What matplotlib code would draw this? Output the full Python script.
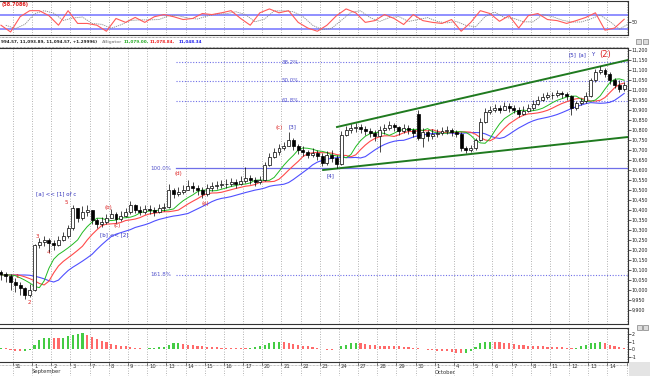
import numpy as np
import pandas as pd
import matplotlib
matplotlib.use("Agg")
import matplotlib.pyplot as plt
from matplotlib.patches import Rectangle
from matplotlib.transforms import blended_transform_factory

# ---------------- data (4 bars per trading day) ----------------
day_labels = ["31", "1", "2", "3", "7", "8", "9", "10", "13", "14", "15", "16", "17",
              "20", "21", "22", "23", "24", "27", "28", "29", "30", "1", "4", "5", "6",
              "7", "8", "11", "12", "13", "14", "1"]
month_labels = {1: "September", 22: "October"}

opens = [10090, 10080, 10070,
         10040, 10025, 10010, 9975,
         10000, 10225, 10240, 10250,
         10235, 10225, 10250, 10270,
         10310, 10410, 10360, 10390,
         10400, 10350, 10330, 10340,
         10360, 10380, 10355, 10370,
         10390, 10425, 10400, 10390,
         10405, 10400, 10390, 10410,
         10415, 10500, 10480, 10490,
         10500, 10520, 10510, 10500,
         10480, 10510, 10520, 10525,
         10530, 10530, 10540, 10530,
         10545, 10560, 10550, 10540,
         10550, 10625, 10665, 10690,
         10710, 10720, 10750, 10720,
         10700, 10690, 10675, 10685,
         10670, 10635, 10675, 10660,
         10630, 10775, 10800, 10810,
         10815, 10805, 10795, 10785,
         10770, 10800, 10810, 10825,
         10815, 10795, 10810, 10800,
         10880, 10760, 10790, 10770,
         10780, 10785, 10795, 10800,
         10790, 10780, 10710, 10700,
         10710, 10750, 10840, 10890,
         10900, 10910, 10900, 10920,
         10910, 10900, 10880, 10895,
         10910, 10930, 10950, 10965,
         10975, 10975, 10985, 10980,
         10970, 10910, 10935, 10945,
         10970, 11050, 11090, 11100,
         11080, 11050, 11025, 11005]
highs = [10100, 10090, 10080,
         10060, 10040, 10015, 10030,
         10230, 10260, 10270, 10260,
         10250, 10270, 10290, 10325,
         10425, 10410, 10420, 10425,
         10385, 10360, 10365, 10380,
         10405, 10390, 10395, 10410,
         10445, 10430, 10420, 10425,
         10425, 10415, 10430, 10435,
         10530, 10510, 10515, 10525,
         10550, 10540, 10525, 10515,
         10530, 10540, 10545, 10550,
         10555, 10560, 10555, 10570,
         10615, 10575, 10565, 10570,
         10640, 10685, 10710, 10730,
         10740, 10790, 10760, 10730,
         10720, 10700, 10710, 10700,
         10685, 10695, 10700, 10675,
         10795, 10820, 10830, 10835,
         10830, 10820, 10810, 10800,
         10820, 10830, 10845, 10835,
         10820, 10830, 10825, 10810,
         10900, 10810, 10800, 10805,
         10805, 10815, 10820, 10810,
         10800, 10790, 10720, 10725,
         10760, 10860, 10910, 10920,
         10930, 10925, 10940, 10935,
         10925, 10915, 10920, 10930,
         10950, 10970, 10985, 10990,
         10990, 11000, 10995, 10990,
         10975, 10945, 10960, 10990,
         11060, 11105, 11120, 11110,
         11090, 11060, 11050, 11040]
lows = [10050, 10040, 10000,
        9990, 9975, 9955, 9965,
        9995, 10210, 10220, 10190,
        10200, 10220, 10245, 10260,
        10300, 10340, 10350, 10370,
        10330, 10310, 10315, 10330,
        10360, 10335, 10345, 10365,
        10380, 10385, 10375, 10380,
        10380, 10370, 10385, 10395,
        10410, 10460, 10470, 10480,
        10500, 10490, 10475, 10460,
        10470, 10495, 10505, 10510,
        10510, 10520, 10510, 10525,
        10535, 10530, 10520, 10530,
        10545, 10620, 10660, 10675,
        10700, 10720, 10700, 10680,
        10670, 10660, 10665, 10650,
        10620, 10625, 10640, 10610,
        10625, 10770, 10785, 10790,
        10785, 10775, 10765, 10745,
        10690, 10780, 10800, 10795,
        10775, 10785, 10780, 10765,
        10750, 10715, 10745, 10755,
        10765, 10775, 10780, 10770,
        10765, 10695, 10685, 10690,
        10700, 10745, 10835, 10880,
        10890, 10885, 10900, 10890,
        10885, 10865, 10875, 10890,
        10900, 10925, 10945, 10955,
        10955, 10965, 10960, 10950,
        10875, 10900, 10925, 10935,
        10965, 11040, 11080, 11065,
        11030, 11010, 10990, 10995]
closes = [10080, 10070, 10040,
          10025, 10010, 9975, 10000,
          10225, 10240, 10250, 10235,
          10225, 10250, 10270, 10310,
          10410, 10360, 10390, 10400,
          10350, 10330, 10340, 10360,
          10380, 10355, 10370, 10390,
          10425, 10400, 10390, 10405,
          10400, 10390, 10410, 10415,
          10500, 10480, 10490, 10500,
          10520, 10510, 10500, 10480,
          10510, 10520, 10525, 10530,
          10530, 10540, 10530, 10545,
          10560, 10550, 10540, 10550,
          10625, 10665, 10690, 10710,
          10720, 10750, 10720, 10700,
          10690, 10675, 10685, 10670,
          10635, 10675, 10660, 10630,
          10775, 10800, 10810, 10815,
          10805, 10795, 10785, 10770,
          10800, 10810, 10825, 10815,
          10795, 10810, 10800, 10785,
          10760, 10790, 10770, 10780,
          10785, 10795, 10800, 10790,
          10780, 10710, 10700, 10710,
          10750, 10840, 10890, 10900,
          10910, 10900, 10920, 10910,
          10900, 10880, 10895, 10910,
          10930, 10950, 10965, 10975,
          10975, 10985, 10980, 10970,
          10910, 10935, 10945, 10970,
          11050, 11090, 11100, 11080,
          11050, 11025, 11005, 11025]

# oscillator (one reading every 2 bars)
osc_values = [42, 23, 66, 83, 83, 69, 42, 83, 47, 47, 42, 25, 61, 50, 64, 50, 66,
              72, 66, 58, 61, 75, 72, 77, 83, 61, 42, 77, 88, 77, 83, 50, 34, 25,
              42, 69, 88, 77, 50, 55, 72, 61, 44, 72, 55, 50, 47, 58, 25, 50, 83,
              75, 53, 69, 34, 69, 75, 58, 55, 47, 55, 64, 77, 28, 34, 58.7]

# lower histogram
hist_values = [0.15, 0.1, -0.1,
               -0.2, -0.25, -0.2, -0.1,
               0.6, 1.2, 1.4, 1.5,
               1.45, 1.4, 1.5, 1.7,
               1.9, 2.0, 2.05, 1.9,
               1.6, 1.3, 1.1, 0.9,
               0.7, 0.55, 0.45, 0.35,
               0.25, 0.15, 0.1, 0.05,
               0.1, 0.2, 0.25, 0.3,
               0.5, 0.75, 0.8, 0.7,
               0.6, 0.5, 0.45, 0.35,
               0.3, 0.3, 0.25, 0.2,
               0.2, 0.15, 0.1, 0.1,
               0.1, 0.15, 0.3, 0.45,
               0.6, 0.8, 0.9, 0.95,
               0.9, 0.8, 0.7, 0.55,
               0.45, 0.35, 0.25, 0.15,
               0.05, -0.1, -0.15, 0.0,
               0.35, 0.6, 0.75, 0.8,
               0.75, 0.65, 0.55, 0.5,
               0.45, 0.4, 0.4, 0.35,
               0.35, 0.3, 0.25, 0.2,
               0.1, 0.0, -0.1, -0.15,
               -0.2, -0.25, -0.3, -0.35,
               -0.45, -0.55, -0.5, -0.2,
               0.3, 0.75, 0.95, 1.0,
               1.0, 0.9, 0.85, 0.75,
               0.65, 0.55, 0.5, 0.45,
               0.4, 0.35, 0.35, 0.3,
               0.3, 0.3, 0.25, 0.2,
               0.15, 0.2, 0.4, 0.6,
               0.75, 0.85, 0.9, 0.8,
               0.6, 0.45, 0.3, 0.2]

fib_labels = ["38.2%", "50.0%", "61.8%", "100.0%", "161.8%"]
fib_prices = [11140, 11045, 10945, 10610, 10075]

channel_upper_bars = [70.1, 130.8]
channel_upper_prices = [10815, 11150]
channel_lower_bars = [67.2, 130.8]
channel_lower_prices = [10600, 10765]

header_parts = [("994.57, 11,093.89, 11,094.57, +1.29996)", "#222222"),
                ("Alligator", "#9a9a9a"),
                ("11,079.00,", "#22aa22"),
                ("11,078.84,", "#ee2222"),
                ("11,048.34", "#2222ee")]

# ---------------- figure ----------------
W, H = 650, 376
fig = plt.figure(figsize=(6.5, 3.76), dpi=100)
fig.patch.set_facecolor("white")


def add_ax(x0, y0, x1, y1):
    return fig.add_axes([x0 / W, 1 - y1 / H, (x1 - x0) / W, (y1 - y0) / H])


o = np.array(opens, float)
h = np.array(highs, float)
l = np.array(lows, float)
c = np.array(closes, float)
n = len(c)
idx = np.arange(n)
XL = (-0.2, 130.8)
day_ticks = 2.5 + 4 * np.arange(len(day_labels))

grid_kw = dict(color="#9a9a9a", lw=0.6, ls=(0, (1, 2)))
fs = 4.0
fs_axis = 3.4


def style_panel(ax):
    ax.set_xlim(*XL)
    ax.set_xticks([])
    ax.spines["left"].set_visible(False)
    for s in ["top", "bottom", "right"]:
        ax.spines[s].set_color("#333333")
        ax.spines[s].set_linewidth(0.8)
    ax.yaxis.tick_right()
    ax.tick_params(axis="y", labelsize=fs_axis, length=1.8, width=0.5, pad=0.8,
                   colors="#222222")
    for t in day_ticks:
        ax.axvline(t, **grid_kw, zorder=0)


# ---- oscillator panel ----
ax_o = add_ax(0, 1, 628, 35)
style_panel(ax_o)
ax_o.set_ylim(14.4, 110.3)
osc_x = 2 * np.arange(len(osc_values))
osc = np.array(osc_values, float)
sig = pd.Series(osc).rolling(2, min_periods=1).mean().values
ax_o.axhline(70, color="#7272ff", lw=1.1)
ax_o.axhline(30, color="#7272ff", lw=1.1)
ax_o.plot(osc_x + 1, sig, color="#8a8a8a", lw=0.6, ls=(0, (1.5, 1)))
ax_o.plot(osc_x, osc, color="#ff5a5a", lw=0.8)
ax_o.set_yticks([50])
ax_o.set_yticklabels(["50"])
ax_o.text(0.003, 0.97, "(58.7086)", transform=ax_o.transAxes, color="#e02020",
          fontsize=3.6, va="top", ha="left", fontweight="bold")

# ---- header strip ----
xpos = [1, 102, 124, 150, 179]
for (txt, col), xp in zip(header_parts, xpos):
    fig.text(xp / W, 1 - 41.8 / H, txt, color=col, fontsize=3.0, va="center",
             ha="left", fontweight="bold")
fig.add_artist(plt.Line2D([0, 628 / W], [1 - 37 / H] * 2, color="#555555", lw=0.5,
                          ls=(0, (1, 1))))
fig.add_artist(plt.Line2D([0, 628 / W], [1 - 46.5 / H] * 2, color="#555555", lw=0.5,
                          ls=(0, (1, 1))))
for xs in (636, 643):
    fig.add_artist(Rectangle((xs / W, 1 - 44 / H), 5 / W, 5 / H, facecolor="#dddddd",
                             edgecolor="#666666", lw=0.4))

# ---- main price panel ----
ax = add_ax(0, 48, 628, 324)
style_panel(ax)
ax.set_ylim(9830, 11210)
yt = np.arange(9900, 11201, 50)
ax.set_yticks(yt)
ax.set_yticklabels([f"{v:,}" for v in yt])

# fib lines
fib_start = 36.5
for lab, p in zip(fib_labels, fib_prices):
    solid = lab == "100.0%"
    ax.plot([fib_start, XL[1]], [p, p], color="#6f6fe8",
            lw=0.9 if solid else 0.8, ls="-" if solid else (0, (1, 1.5)), zorder=1)
    if lab in ("100.0%", "161.8%"):
        ax.text(35.5, p, lab, color="#5555cc", fontsize=fs, ha="right", va="center")
    else:
        ax.text(60.3, p, lab, color="#5555cc", fontsize=fs, ha="center", va="center")

# channel
ax.plot(channel_upper_bars, channel_upper_prices, color="#1f7a1f", lw=1.4, zorder=2)
ax.plot(channel_lower_bars, channel_lower_prices, color="#1f7a1f", lw=1.4, zorder=2)

# alligator lines
med = (h + l) / 2


def smma(x, period, shift):
    s = pd.Series(x).ewm(alpha=1.0 / period, adjust=False).mean().values
    return np.r_[np.full(shift, s[0]), s[:n - shift]] if shift else s


ax.plot(idx, smma(med, 7.5, 5), color="#4f4fff", lw=0.8, zorder=3)
ax.plot(idx, smma(med, 4.6, 3), color="#ff4a4a", lw=0.8, zorder=3)
ax.plot(idx, smma(med, 3.0, 2), color="#22bb22", lw=0.7, zorder=3)

# candles
bw = 0.62
up = c >= o
lo_w = np.minimum(l, np.minimum(o, c))
hi_w = np.maximum(h, np.maximum(o, c))
ax.vlines(idx, lo_w, hi_w, color="black", lw=0.5, zorder=4)
body_b = np.minimum(o, c)
body_h = np.maximum(np.abs(c - o), 2)
ax.bar(idx[up], body_h[up], bottom=body_b[up], width=bw, color="white",
       edgecolor="black", lw=0.5, zorder=5)
ax.bar(idx[~up], body_h[~up], bottom=body_b[~up], width=bw, color="black",
       edgecolor="black", lw=0.5, zorder=5)

# wave labels
red = "#dd2222"
blue = "#3333bb"
labels = [("1", 3.35, 10070, red), ("2", 5.85, 9935, red), ("3", 7.5, 10265, red),
          ("4", 10.0, 10185, red), ("5", 13.6, 10435, red),
          ("(b)", 22.5, 10415, red), ("(c)", 24.2, 10325, red),
          ("(d)", 37.1, 10585, red), ("(e)", 42.6, 10435, red),
          ("(c)", 58.0, 10815, red), ("[3]", 60.7, 10815, blue),
          ("[4]", 68.8, 10570, blue), ("[5]", 119.3, 11175, blue),
          ("[a]", 121.4, 11175, blue), ("Y", 123.5, 11175, blue)]
for t, xb, p, col in labels:
    ax.text(xb, p, t, color=col, fontsize=fs, ha="center", va="center")
ax.text(126.0, 11175, "(2)", color=red, fontsize=6, ha="center", va="center")
ax.text(7.3, 10480, "[a] << [1] of c", color=blue, fontsize=fs, ha="left",
        va="center")
ax.text(20.7, 10275, "[b] << [2]", color=blue, fontsize=fs, ha="left", va="center")

# ---- histogram panel ----
ax_h = add_ax(0, 328, 628, 362)
style_panel(ax_h)
ax_h.set_ylim(-1.67, 2.76)
hv = np.array(hist_values, float)
rising = np.r_[True, hv[1:] > hv[:-1]]
ax_h.bar(idx, hv, width=0.45, color=np.where(rising, "#44cc44", "#ff6a6a"), lw=0)
ax_h.set_yticks([2, 1, 0, -1])
ax_h.set_yticklabels(["2", "1", "0", "-1"])
for xs in (637, 643):
    fig.add_artist(Rectangle((xs / W, 1 - 330 / H), 5 / W, 5 / H, facecolor="#dddddd",
                             edgecolor="#666666", lw=0.4))

# date axis labels
trans = blended_transform_factory(ax_h.transData, fig.transFigure)
for t, lab in zip(day_ticks, day_labels):
    fig.add_artist(plt.Line2D([t, t], [1 - 362 / H, 1 - 365 / H], color="#333333",
                              lw=0.5, transform=trans))
    ax_h.text(t + 0.4, 1 - 366.5 / H, lab, transform=trans, fontsize=3.8, ha="left",
              va="center", color="#333333", clip_on=False)
    fig.add_artist(plt.Line2D([t, t], [0, 1 - 362 / H], transform=trans, **grid_kw))
for k, lab in month_labels.items():
    ax_h.text(day_ticks[k], 1 - 372 / H, lab, transform=trans, fontsize=3.8,
              ha="left", va="center", color="#333333", clip_on=False)
fig.add_artist(plt.Line2D([0, 628 / W], [1 - 365 / H] * 2, color="#888888", lw=0.5,
                          ls=(0, (1, 1))))
fig.add_artist(Rectangle((629 / W, 0), 21 / W, 14 / H, facecolor="#e4e4e4",
                         edgecolor="none", hatch="....", lw=0))

fig.savefig("out.png", dpi=100)
